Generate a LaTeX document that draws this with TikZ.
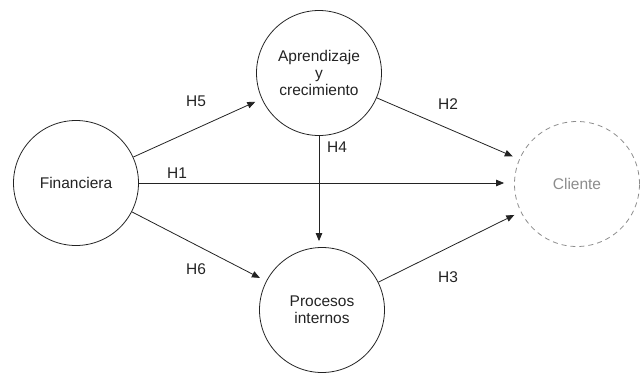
\documentclass[tikz,border=0pt]{standalone}
\usepackage{fontspec}
\setmainfont{Liberation Sans}
\usepackage{xcolor}
\usetikzlibrary{arrows.meta}
\definecolor{linecol}{RGB}{35,35,35}
\definecolor{dimcol}{RGB}{140,140,140}
\tikzset{
  arrow/.style={-{Triangle[length=8pt,width=6.5pt]},line width=0.8pt,draw=linecol,shorten >=7pt},
  construct/.style={circle,draw=linecol,line width=0.8pt,minimum size=125pt,inner sep=0pt,
    align=center,text=linecol,font=\fontsize{15.5}{17}\selectfont},
  target/.style={construct,draw=dimcol,dash pattern=on 5pt off 4pt,text=dimcol},
  hyp/.style={inner sep=0pt,text=linecol,font=\fontsize{15.5}{17}\selectfont}
}

\begin{document}
\begin{tikzpicture}[x=1pt,y=-1pt]
  \useasboundingbox (0,0) rectangle (641,373);
  \node[construct] (Fin) at (76,183) {Financiera};
  \node[construct] (Apr) at (319,73) {Aprendizaje\\y\\crecimiento};
  \node[construct] (Pro) at (322,310) {Procesos\\internos};
  \node[target] (Cli) at (577,184) {Cliente};
  \draw[arrow] (Fin)--(Apr);
  \draw[arrow,shorten >=10pt] (Fin.east)--(Fin.east -| Cli.west);
  \draw[arrow] (Fin)--(Pro);
  \draw[arrow] (Apr)--(Cli);
  \draw[arrow,shorten >=6pt] (Apr.south)--(Apr.south |- Pro.north);
  \draw[arrow] (Pro)--(Cli);
  \node[hyp] (h1) at (177,173) {H1};
  \node[hyp] (h2) at (448,104) {H2};
  \node[hyp] (h3) at (448,277) {H3};
  \node[hyp] (h4) at (337,147) {H4};
  \node[hyp] (h5) at (196,101) {H5};
  \node[hyp] (h6) at (196,269) {H6};
\end{tikzpicture}
\end{document}
